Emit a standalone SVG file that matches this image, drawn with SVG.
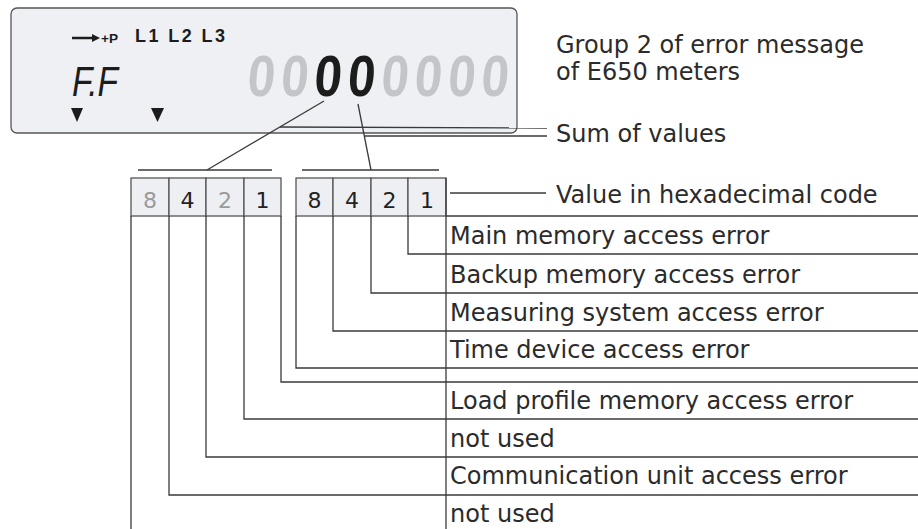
<svg xmlns="http://www.w3.org/2000/svg" width="918" height="529" viewBox="0 0 918 529">
<style>
.t{font-family:"DejaVu Sans","Liberation Sans",sans-serif;font-size:24px;fill:#2b2b2b}
.n{font-family:"DejaVu Sans","Liberation Sans",sans-serif;font-size:22px;text-anchor:middle}
.cell{fill:#eeeff3;stroke:#555;stroke-width:1.3}
.ln{fill:none;stroke:#3a3a3a;stroke-width:1.3}
.dig{font-family:"Liberation Sans",Arial,sans-serif;font-size:58px;font-weight:bold;text-anchor:middle}
.dg{fill:#c3c5c9}
.db{fill:#1c1c1c}
.lcdt{font-family:"Liberation Sans",Arial,sans-serif;font-weight:bold;fill:#1c1c1c}
</style>
<g id="lcd">
<rect x="11" y="8" width="506" height="125" rx="6" fill="#eef0f4" stroke="#555" stroke-width="1.3"/>
<line x1="72" y1="38" x2="93" y2="38" stroke="#1c1c1c" stroke-width="2.5"/>
<polygon points="92,34 100,38 92,42" fill="#1c1c1c"/>
<text class="lcdt" x="101" y="43" font-size="13" textLength="17" lengthAdjust="spacingAndGlyphs">+P</text>
<text class="lcdt" x="135" y="42" font-size="18" textLength="90" lengthAdjust="spacing">L1 L2 L3</text>
<text x="72" y="96" font-family="Liberation Sans,Arial,sans-serif" font-size="42" font-style="italic" fill="#1c1c1c" textLength="46" lengthAdjust="spacingAndGlyphs">F.F</text>
<polygon points="71,108 83,108 77,122" fill="#1c1c1c"/>
<polygon points="151,108 164,108 157.5,122" fill="#1c1c1c"/>
<g class="dig">
<text class="dg" transform="translate(260,96) skewX(-5) scale(0.85,1)">0</text>
<text class="dg" transform="translate(293.4,96) skewX(-5) scale(0.85,1)">0</text>
<text class="db" transform="translate(326.8,96) skewX(-5) scale(0.85,1)">0</text>
<text class="db" transform="translate(360.2,96) skewX(-5) scale(0.85,1)">0</text>
<text class="dg" transform="translate(393.6,96) skewX(-5) scale(0.85,1)">0</text>
<text class="dg" transform="translate(427,96) skewX(-5) scale(0.85,1)">0</text>
<text class="dg" transform="translate(460.4,96) skewX(-5) scale(0.85,1)">0</text>
<text class="dg" transform="translate(493.8,96) skewX(-5) scale(0.85,1)">0</text>
</g>
</g>
<g id="title">
<text class="t" x="556" y="53">Group 2 of error message</text>
<text class="t" x="556" y="80">of E650 meters</text>
</g>
<g id="sum-label"><text class="t" x="556" y="142">Sum of values</text></g>
<g id="hex-label"><text class="t" x="556" y="203">Value in hexadecimal code</text></g>
<g id="nibble-high">
<rect class="cell" x="131" y="178" width="38" height="38"/>
<rect class="cell" x="169" y="178" width="37" height="38"/>
<rect class="cell" x="206" y="178" width="38" height="38"/>
<rect class="cell" x="244" y="178" width="37" height="38"/>
<text class="n" x="150" y="208" fill="#9a9a9a">8</text>
<text class="n" x="187.5" y="208" fill="#222">4</text>
<text class="n" x="225" y="208" fill="#9a9a9a">2</text>
<text class="n" x="262.5" y="208" fill="#222">1</text>
</g>
<g id="nibble-low">
<rect class="cell" x="296" y="178" width="37" height="38"/>
<rect class="cell" x="333" y="178" width="38" height="38"/>
<rect class="cell" x="371" y="178" width="37" height="38"/>
<rect class="cell" x="408" y="178" width="38" height="38"/>
<text class="n" x="314.5" y="208" fill="#222">8</text>
<text class="n" x="352" y="208" fill="#222">4</text>
<text class="n" x="389.5" y="208" fill="#222">2</text>
<text class="n" x="427" y="208" fill="#222">1</text>
</g>
<g id="rows">
<text class="t" x="450" y="244">Main memory access error</text>
<text class="t" x="450" y="283">Backup memory access error</text>
<text class="t" x="450" y="321">Measuring system access error</text>
<text class="t" x="450" y="358">Time device access error</text>
<text class="t" x="450" y="409">Load profile memory access error</text>
<text class="t" x="450" y="447">not used</text>
<text class="t" x="450" y="484">Communication unit access error</text>
<text class="t" x="450" y="522">not used</text>
</g>
<g id="connectors" class="ln">
<line x1="324" y1="101" x2="207" y2="170"/>
<line x1="358" y1="104" x2="371" y2="170"/>
<line x1="138" y1="170" x2="272" y2="170"/>
<line x1="302" y1="170" x2="439" y2="170"/>
<line x1="280" y1="127" x2="547" y2="128"/>
<line x1="365" y1="136" x2="547" y2="136"/>
<line x1="450" y1="193" x2="546" y2="193"/>
<line x1="446" y1="216" x2="918" y2="216"/>
<line x1="446" y1="178" x2="446" y2="529"/>
<polyline points="408,216 408,254 918,254"/>
<polyline points="371,216 371,293 918,293"/>
<polyline points="333,216 333,331 918,331"/>
<polyline points="296,216 296,368 918,368"/>
<polyline points="281,216 281,382 918,382"/>
<polyline points="244,216 244,419 918,419"/>
<polyline points="206,216 206,457 918,457"/>
<polyline points="169,216 169,495 918,495"/>
<line x1="131" y1="216" x2="131" y2="529"/>
</g>
</svg>
